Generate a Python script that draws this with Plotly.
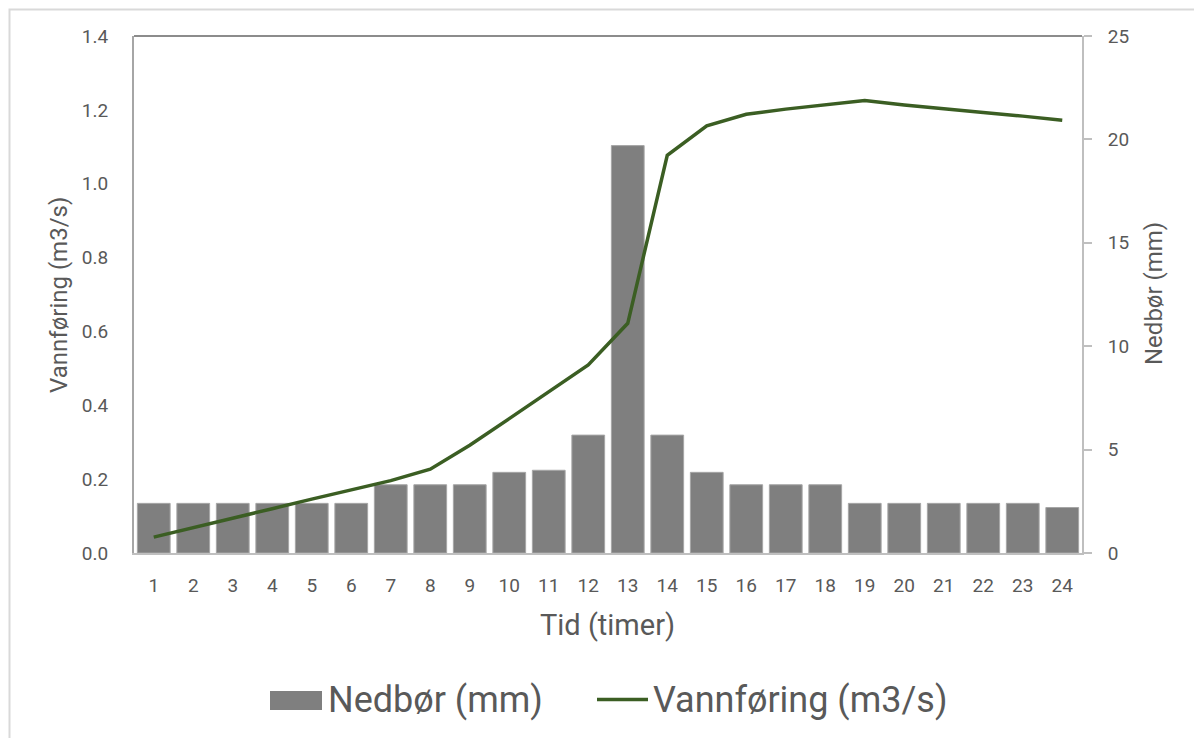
import plotly.graph_objects as go

hours = list(range(1, 25))
nedbor_mm = [2.4, 2.4, 2.4, 2.4, 2.4, 2.4, 3.3, 3.3, 3.3, 3.9, 4.0, 5.7,
             19.7, 5.7, 3.9, 3.3, 3.3, 3.3, 2.4, 2.4, 2.4, 2.4, 2.4, 2.2]
vannforing_m3s = [0.043, 0.068, 0.094, 0.12, 0.146, 0.171, 0.196, 0.227, 0.292, 0.364,
                  0.437, 0.509, 0.622, 1.077, 1.157, 1.188, 1.202, 1.214, 1.225, 1.213,
                  1.202, 1.193, 1.183, 1.172]
left_ticks = [0.0, 0.2, 0.4, 0.6, 0.8, 1.0, 1.2, 1.4]
right_ticks = [0, 5, 10, 15, 20, 25]

FONT = "Roboto"
TXT = "#595959"
BAR = "#7f7f7f"
LINE = "#3b5e23"

# page offset (body margin) and plot geometry in page pixels
OFF = 8
L, T, PW, PH = 126, 28, 948, 517
W, H = 1194, 730


def px(xp):
    return (xp - OFF - L) / PW


def py(yp):
    return (T + PH - (yp - OFF)) / PH


fig = go.Figure()
fig.add_trace(go.Bar(
    x=hours, y=nedbor_mm, name="Nedbør (mm)", yaxis="y",
    marker=dict(color=BAR, line=dict(color="#a6a6a6", width=1)),
    showlegend=False,
))
fig.add_trace(go.Scatter(
    x=hours, y=vannforing_m3s, name="Vannføring (m3/s)", yaxis="y2",
    mode="lines", line=dict(color=LINE, width=3.5), showlegend=False,
))

fig.update_layout(
    width=W, height=H,
    margin=dict(l=L, r=W - L - PW, t=T, b=H - T - PH),
    paper_bgcolor="white", plot_bgcolor="white",
    font=dict(family=FONT, color=TXT, size=19),
    bargap=0.17,
    showlegend=False,
    xaxis=dict(
        range=[0.5, 24.5], tickmode="array", tickvals=hours, ticktext=[str(h) for h in hours],
        showgrid=False, zeroline=False, showline=True, linecolor="#bfbfbf", linewidth=2,
        ticks="", tickfont=dict(size=19, color=TXT), ticklabelstandoff=14,
    ),
    yaxis=dict(
        side="right", range=[0, 25], tickvals=right_ticks, ticktext=[str(t) for t in right_ticks],
        showgrid=False, zeroline=False, showline=True, linecolor="#bfbfbf", linewidth=2,
        ticks="outside", ticklen=8, tickcolor="#bfbfbf", tickwidth=2,
        tickfont=dict(size=19, color=TXT), ticklabelstandoff=12,
    ),
    yaxis2=dict(
        side="left", overlaying="y", range=[0, 1.4], tickvals=left_ticks,
        ticktext=[f"{t:.1f}" for t in left_ticks],
        showgrid=False, zeroline=False, showline=True, linecolor="#a6a6a6", linewidth=2,
        ticks="", tickfont=dict(size=19, color=TXT), ticklabelstandoff=20,
    ),
    shapes=[
        # top border of plot area
        dict(type="line", xref="paper", yref="paper", x0=0, x1=1, y0=1, y1=1,
             line=dict(color="#8c8c8c", width=2)),
        # chart outer border
        dict(type="rect", xref="paper", yref="paper",
             x0=px(9.5), x1=px(1199), y0=py(745), y1=py(9.5),
             line=dict(color="#d9d9d9", width=2), layer="below"),
        # legend symbols
        dict(type="rect", xref="paper", yref="paper",
             x0=px(270), x1=px(322), y0=py(710), y1=py(691),
             fillcolor=BAR, line=dict(width=0)),
        dict(type="line", xref="paper", yref="paper",
             x0=px(597), x1=px(648), y0=py(699.5), y1=py(699.5),
             line=dict(color=LINE, width=3.5)),
    ],
    annotations=[
        dict(text="Vannføring (m3/s)", xref="paper", yref="paper", x=px(59), y=py(295),
             textangle=-90, showarrow=False, font=dict(size=24, color=TXT),
             xanchor="center", yanchor="middle"),
        dict(text="Nedbør (mm)", xref="paper", yref="paper", x=px(1154), y=py(294),
             textangle=-90, showarrow=False, font=dict(size=24, color=TXT),
             xanchor="center", yanchor="middle"),
        dict(text="Tid (timer)", xref="paper", yref="paper", x=px(607), y=py(625),
             showarrow=False, font=dict(size=29, color=TXT),
             xanchor="center", yanchor="middle"),
        dict(text="Nedbør (mm)", xref="paper", yref="paper", x=px(326), y=py(700),
             showarrow=False, font=dict(size=36, color=TXT),
             xanchor="left", yanchor="middle"),
        dict(text="Vannføring (m3/s)", xref="paper", yref="paper", x=px(651), y=py(700),
             showarrow=False, font=dict(size=36, color=TXT),
             xanchor="left", yanchor="middle"),
    ],
)

fig.write_html("out.html")
